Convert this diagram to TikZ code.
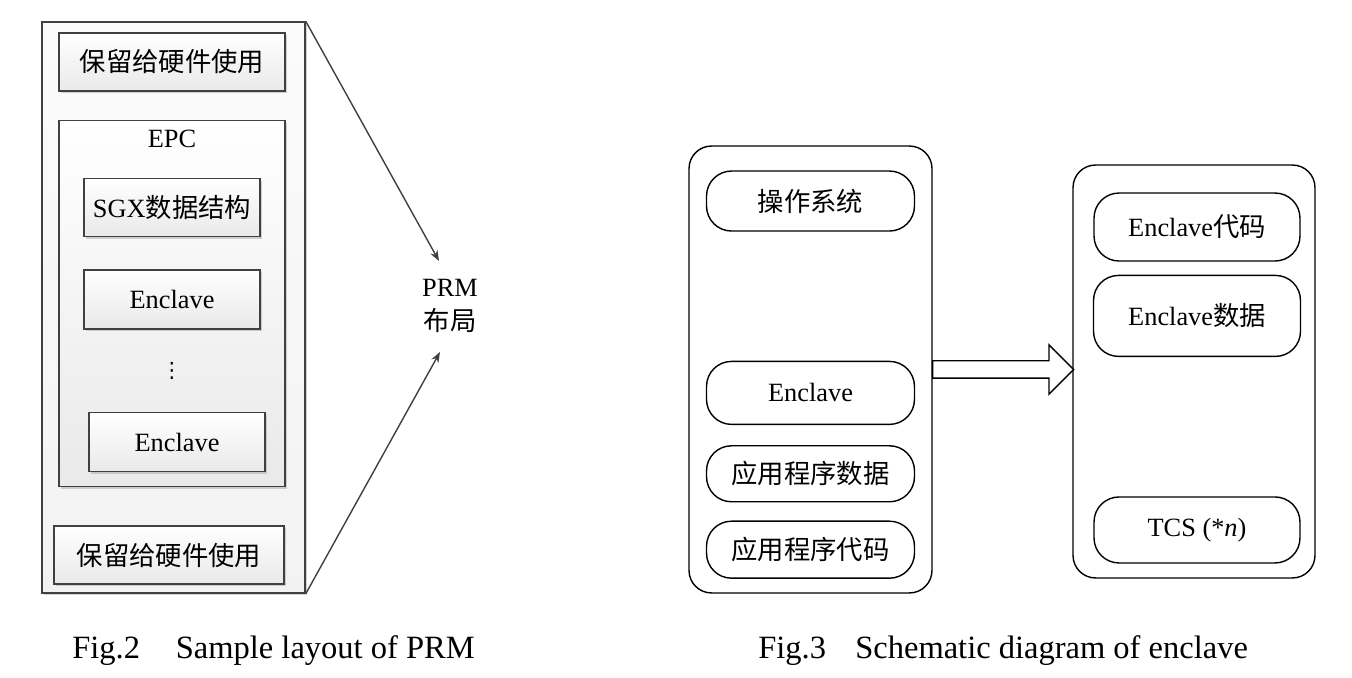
\documentclass[tikz,border=0pt]{standalone}
\usepackage{fontspec}
\setmainfont{Liberation Serif}
\newfontfamily\cjk{Noto Sans CJK SC}
\newfontfamily\symb{DejaVu Sans}
\newcommand{\zh}[1]{{\cjk #1}}
\usepackage{tikz}
\usetikzlibrary{positioning, calc, shapes.arrows, shadows, arrows.meta}

\definecolor{boxline}{HTML}{404040}
\definecolor{boxshade}{HTML}{E9E9E9}

\begin{document}
\begin{tikzpicture}[
  x = 0.02cm, y = -0.02cm,
  font = \fontsize{15}{18}\selectfont,
  gbox/.style    = {rectangle, draw=boxline, line width=0.9pt,
                    top color=white, bottom color=boxshade, inner sep=0pt,
                    drop shadow={shadow xshift=1.2pt, shadow yshift=-1.2pt,
                                 fill=gray!70, opacity=0.5}},
  garr/.style    = {-{Stealth[length=6pt, width=4.5pt]}, draw=boxline, line width=0.8pt},
  cont/.style    = {rectangle, draw, line width=0.8pt, rounded corners=0.45cm},
  pill/.style    = {rectangle, draw, line width=0.8pt, rounded corners=0.5cm,
                    minimum width=4.16cm, inner sep=0pt},
  fatarr/.style  = {single arrow, draw, fill=white, line width=0.8pt,
                    inner sep=0.16cm, outer sep=0pt,
                    single arrow head extend=0.32cm},
  caption/.style = {font=\fontsize{18.5}{22}\selectfont, anchor=base west, inner sep=0pt},
]
\useasboundingbox (0,0) rectangle (1352,678);

% Fig.2: PRM layout
\node[gbox, top color=gray!3, bottom color=gray!10,
      minimum width=5.26cm, minimum height=11.42cm] (prm) at (173.5,307.5) {};
\node[gbox, minimum width=4.52cm, minimum height=1.16cm] (rsvtop) at (172,62) {\zh{保留给硬件使用}};
\node[gbox, below=0.56cm of rsvtop, minimum width=4.52cm, minimum height=7.32cm] (epc) {};
\node[below=0.2cm of epc.north, inner sep=0pt] (epclbl) {EPC};
\node[gbox, below=1.16cm of epc.north, minimum width=3.52cm, minimum height=1.16cm] (sgx) {SGX\zh{数据结构}};
\node[gbox, below=0.64cm of sgx, minimum width=3.52cm, minimum height=1.18cm] (enc1) {Enclave};
\node[gbox, below=1.64cm of enc1, xshift=0.1cm, minimum width=3.52cm, minimum height=1.18cm] (enc2) {Enclave};
\node[inner sep=0pt, font=\symb\fontsize{12}{12}\selectfont, xshift=-0.05cm] (dots) at ($(enc1.south)!0.5!(enc2.north)$) {⋮};
\node[gbox, below=0.76cm of epc, xshift=-0.06cm, minimum width=4.6cm, minimum height=1.16cm] (rsvbot) {\zh{保留给硬件使用}};

\node[align=center, inner sep=0pt, font=\fontsize{15}{19}\selectfont] (prmtxt) at (450,306) {PRM\\\zh{布局}};
\coordinate (ptop) at (439,261);
\coordinate (pbot) at (440,352);
\draw[garr] (prm.north east) -- (ptop);
\draw[garr] (prm.south east) -- (pbot);

% Fig.3: enclave
\node[cont, minimum width=4.86cm, minimum height=8.94cm] (host) at (810.5,369.5) {};
\node[pill, minimum height=1.2cm, below=0.5cm of host.north] (os) {\zh{操作系统}};
\node[pill, minimum height=1.26cm, below=2.58cm of os] (encl) {Enclave};
\node[pill, minimum height=1.12cm, below=0.4cm of encl] (appdat) {\zh{应用程序数据}};
\node[pill, minimum height=1.14cm, below=0.36cm of appdat] (appcode) {\zh{应用程序代码}};

\node[cont, minimum width=4.84cm, minimum height=8.26cm] (encbox) at (1194,371.5) {};
\node[pill, minimum width=4.12cm, minimum height=1.36cm, below=0.56cm of encbox.north, xshift=0.06cm] (enccode) {Enclave\zh{代码}};
\node[pill, minimum width=4.14cm, minimum height=1.62cm, below=0.26cm of enccode] (encdat) {Enclave\zh{数据}};
\node[pill, minimum width=4.12cm, minimum height=1.32cm, above=0.3cm of encbox.south, xshift=0.06cm] (tcs) {TCS (*\textit{n})};

\node[fatarr, anchor=tail, minimum height=2.82cm] (move) at (host.east) {};

% captions
\node[caption] (cap2) at (72,658) {Fig.2\hspace{1.1em}Sample layout of PRM};
\node[caption] (cap3) at (758,658) {Fig.3\hspace{0.9em}Schematic diagram of enclave};
\end{tikzpicture}
\end{document}
